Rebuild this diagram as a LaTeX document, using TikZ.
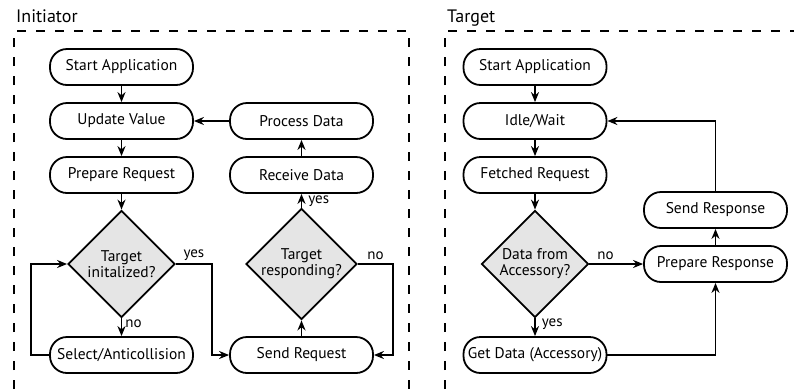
\documentclass[tikz,border=0pt]{standalone}
\usepackage{fontspec}
\setmainfont{PT Sans}
\usetikzlibrary{arrows.meta,shapes.geometric}

\begin{document}
\begin{tikzpicture}[x=1pt, y=-1pt, ->, >={Stealth[length=10pt,width=8pt]}, line width=1.8pt, node distance=54pt, font=\fontsize{15.5}{16}\selectfont]
\tikzstyle{proc}=[draw, rounded corners=17pt, minimum width=143pt, minimum height=36pt, inner sep=0pt]
\tikzstyle{test}=[draw, diamond, fill=black!10, aspect=1, minimum width=107pt, minimum height=107pt, inner sep=0pt, align=center]
\tikzstyle{panel}=[-, dash pattern=on 9pt off 10pt, line width=1.8pt]
\tikzstyle{lbl}=[font=\fontsize{15}{16}\selectfont, inner sep=3pt]

\useasboundingbox (0,0) rectangle (794,389);

\node[anchor=base west, font=\fontsize{18}{20}\selectfont] (ttl0) at (12,22) {Initiator};
\node[anchor=base west, font=\fontsize{18}{20}\selectfont] (ttl1) at (443,22) {Target};
\draw[panel] (14,389) -- (14,31) -- (409,31) -- (409,389);
\draw[panel] (445,389) -- (445,31) -- (794,31);

\node[proc] (ini0) at (121.5,67) {Start Application};
\node[proc] (ini1) [below of=ini0] {Update Value};
\node[proc] (ini2) [below of=ini1] {Prepare Request};
\node[test] (ini3) at (121.5,264) {Target\\initalized?};
\node[proc] (ini4) at (121.5,355) {Select/Anticollision};
\node[proc] (ini5) at (301.5,355) {Send Request};
\node[test] (ini6) at (301.5,264) {Target\\responding?};
\node[proc] (ini7) at (301.5,175) {Receive Data};
\node[proc] (ini8) [above of=ini7] {Process Data};

\node[proc] (tgt0) at (535,67) {Start Application};
\node[proc] (tgt1) [below of=tgt0] {Idle/Wait};
\node[proc] (tgt2) [below of=tgt1] {Fetched Request};
\node[test] (tgt3) at (535,264) {Data from\\Accessory?};
\node[proc] (tgt4) at (535,355) {Get Data (Accessory)};
\node[proc] (tgt5) at (715.5,264) {Prepare Response};
\node[proc] (tgt6) at (715.5,210) {Send Response};

\path
(ini0) edge (ini1)
(ini1) edge (ini2)
(ini2) edge (ini3)
(ini3) edge node[lbl, right, pos=0.3] {no} (ini4)
(ini5) edge (ini6)
(ini6) edge node[lbl, right, xshift=3pt] {yes} (ini7)
(ini7) edge (ini8)
(ini8) edge (ini1)

(tgt0) edge (tgt1)
(tgt1) edge (tgt2)
(tgt2) edge (tgt3)
(tgt3) edge node[lbl, right, pos=0.3, xshift=3pt] {yes} (tgt4)
(tgt3) edge node[lbl, above, pos=0.3] {no} (tgt5)
(tgt5) edge (tgt6);

\draw (ini3.east) -- ++(36,0) node[lbl, midway, above] {yes} |- (ini5.west);
\draw (ini4.west) -- ++(-18,0) |- (ini3.west);
\draw (ini6.east) -- ++(35,0) node[lbl, midway, above] {no} |- (ini5.east);
\draw (tgt4.east) -| (tgt5.south);
\draw (tgt6.north) |- (tgt1.east);
\end{tikzpicture}
\end{document}
